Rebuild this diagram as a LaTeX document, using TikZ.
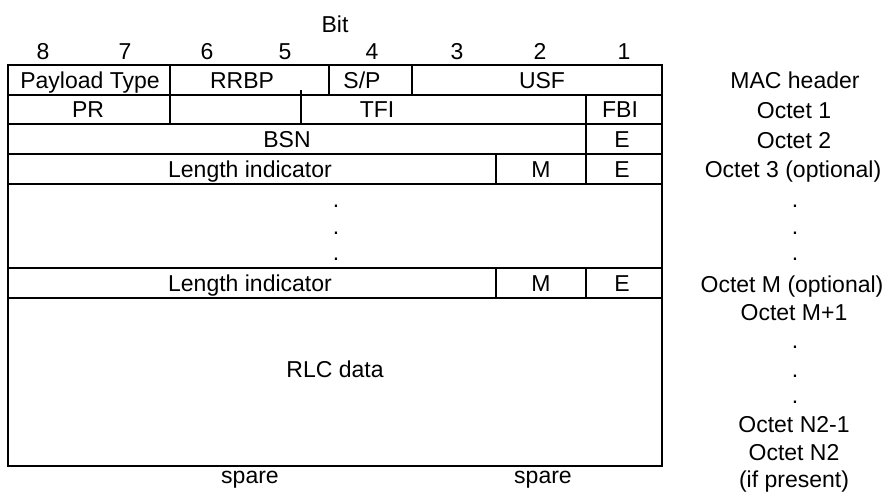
\documentclass[tikz,border=0pt]{standalone}
\usepackage{fontspec}
\setmainfont{Liberation Sans}
\begin{document}
\begin{tikzpicture}[x=1pt,y=-1pt,
  lbl/.style={inner sep=0pt,anchor=base,font=\fontsize{23}{27}\selectfont},
  frame/.style={line width=2pt}]
\useasboundingbox (0,0) rectangle (893,493);
% outer box and row lines
\draw[frame] (7.5,65) rectangle (662,466);
\foreach \y in {94.5,124,154,183.5,268,298} \draw[frame] (7.5,\y) -- (662,\y);
% row 1 separators
\draw[frame] (170,65) -- (170,94.5);
\draw[frame] (329,65) -- (329,94.5);
\draw[frame] (412,65) -- (412,94.5);
% row 2
\draw[frame] (170,94.5) -- (170,124);
\draw[line width=1.3pt] (301,90) -- (301,124);
\draw[frame] (586,94.5) -- (586,124);
% row 3
\draw[frame] (586,124) -- (586,154);
% row 4
\draw[frame] (496,154) -- (496,183.5);
\draw[frame] (586,154) -- (586,183.5);
% LI row 2
\draw[frame] (496,268) -- (496,298);
\draw[frame] (586,268) -- (586,298);
% header
\node[lbl] (bit) at (335,32) {Bit};
\node[lbl] (b8) at (43,59) {8};
\node[lbl] (b7) at (125,59) {7};
\node[lbl] (b6) at (207,59) {6};
\node[lbl] (b5) at (285,59) {5};
\node[lbl] (b4) at (372,59) {4};
\node[lbl] (b3) at (457,59) {3};
\node[lbl] (b2) at (540,59) {2};
\node[lbl] (b1) at (624,59) {1};
% row texts
\node[lbl] (pt) at (90,88) {Payload Type};
\node[lbl] (rrbp) at (242,88) {RRBP};
\node[lbl] (sp) at (362,88) {S/P};
\node[lbl] (usf) at (542,88) {USF};
\node[lbl] (pr) at (88,117) {PR};
\node[lbl] (tfi) at (377,117) {TFI};
\node[lbl] (fbi) at (620,117) {FBI};
\node[lbl] (bsn) at (287,147) {BSN};
\node[lbl] (e1) at (622,147) {E};
\node[lbl] (li1) at (250,177) {Length indicator};
\node[lbl] (m1) at (541,177) {M};
\node[lbl] (e2) at (622,177) {E};
\node[lbl] (d1) at (336,207) {.};
\node[lbl] (d2) at (336,234) {.};
\node[lbl] (d3) at (336,260) {.};
\node[lbl] (li2) at (250,291) {Length indicator};
\node[lbl] (m2) at (541,291) {M};
\node[lbl] (e3) at (622,291) {E};
\node[lbl] (rlc) at (335,377) {RLC data};
\node[lbl] (sp1) at (250,483) {spare};
\node[lbl] (sp2) at (543,483) {spare};
% right column
\node[lbl] (mac) at (795,88) {MAC header};
\node[lbl] (o1) at (794,118) {Octet 1};
\node[lbl] (o2) at (794,148) {Octet 2};
\node[lbl] (o3) at (793,177) {Octet 3 (optional)};
\node[lbl] (r1) at (795,207) {.};
\node[lbl] (r2) at (795,234) {.};
\node[lbl] (r3) at (795,260) {.};
\node[lbl] (om) at (792,292) {Octet M (optional)};
\node[lbl] (om1) at (794,320) {Octet M+1};
\node[lbl] (r4) at (795,348) {.};
\node[lbl] (r5) at (795,377) {.};
\node[lbl] (r6) at (795,403) {.};
\node[lbl] (on1) at (794,432) {Octet N2-1};
\node[lbl] (on2) at (794,460) {Octet N2};
\node[lbl] (ifp) at (794,487) {(if present)};
\end{tikzpicture}
\end{document}
